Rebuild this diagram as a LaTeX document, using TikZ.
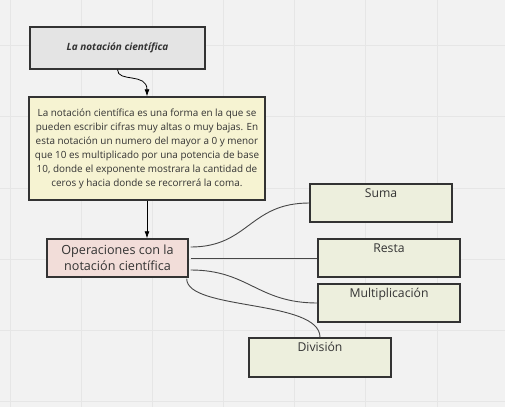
\documentclass[tikz,border=0pt]{standalone}
\usepackage{fontspec}
\setmainfont{Open Sans}
\usetikzlibrary{arrows.meta,calc}
\definecolor{bg}{HTML}{F2F2F2}
\definecolor{gridc}{HTML}{E6E6E6}
\definecolor{titlef}{HTML}{E4E4E4}
\definecolor{yellowf}{HTML}{F6F3D2}
\definecolor{pinkf}{HTML}{F2DDD9}
\definecolor{greenf}{HTML}{EDEFDD}
\definecolor{ink}{HTML}{333333}
\tikzset{
  box/.style={draw=ink, line width=1.4pt, inner sep=0pt, text=ink},
  opbox/.style={box, fill=greenf, minimum width=142pt, minimum height=38pt},
  optext/.style={anchor=north, inner sep=0pt, text=ink, font=\fontsize{12.2}{13}\selectfont},
  link/.style={draw=ink!90, line width=0.9pt},
  arr/.style={draw=black, line width=0.8pt, -{Latex[length=7pt,width=5pt]}}
}
\begin{document}
\begin{tikzpicture}[x=1pt,y=-1pt]
\useasboundingbox (0,0) rectangle (505,407);
\fill[bg] (0,0) rectangle (505,407);
\foreach \gx in {10,81,152,223,294,365,437} \draw[gridc, line width=0.8pt] (\gx,0) -- (\gx,407);
\foreach \gy in {45,116,188,259,330,401} \draw[gridc, line width=0.8pt] (0,\gy) -- (505,\gy);

\node[box, fill=titlef, minimum width=175pt, minimum height=42pt, font=\fontsize{10}{12}\selectfont\bfseries\itshape] (title) at (117.5,48) {La notación científica};

\node[box, fill=yellowf, minimum width=236pt, minimum height=103pt, align=center, font=\fontsize{9.9}{14}\selectfont] (def) at (147,148.5)
{La notación científica es una forma en la que se\\
pueden escribir cifras muy altas o muy bajas. En\\
esta notación un numero del mayor a 0 y menor\\
que 10 es multiplicado por una potencia de base\\
10, donde el exponente mostrara la cantidad de\\
ceros y hacia donde se recorrerá la coma.};

\node[box, fill=pinkf, minimum width=141pt, minimum height=38pt, align=center, font=\fontsize{12.6}{16.5}\selectfont] (ops) at (117.5,258)
{Operaciones con la\\notación científica};

\node[opbox] (suma) at (381,203) {};
\node[optext] (sumat) at ($(suma.north)+(0,5)$) {Suma};
\node[opbox] (resta) at (389,258) {};
\node[optext] (restat) at ($(resta.north)+(0,5)$) {Resta};
\node[opbox] (mult) at (389,303) {};
\node[optext] (multt) at ($(mult.north)+(0,5)$) {Multiplicación};
\node[opbox, minimum height=39pt] (div) at (320,357.5) {};
\node[optext] (divt) at ($(div.north)+(0,5)$) {División};

\draw[arr] (title.south) .. controls ($(title.south)+(0,13)$) and ($(def.north)+(0,-24)$) .. (def.north);
\draw[arr] (def.south) -- (def.south |- ops.north);

\draw[link] ($(ops.east)+(2,-11)$) .. controls ($(ops.east)+(60,-11)$) and ($(suma.west)+(-60,0)$) .. (suma.west);
\draw[link] ($(ops.east)+(2,0)$) -- (resta.west);
\draw[link] ($(ops.east)+(2,12)$) .. controls ($(ops.east)+(60,12)$) and ($(mult.west)+(-60,0)$) .. (mult.west);
\draw[link] ($(ops.south east)+(-2,1)$) .. controls ($(ops.south east)+(-2,33)$) and ($(div.north)+(0,-38)$) .. (div.north);
\end{tikzpicture}
\end{document}
